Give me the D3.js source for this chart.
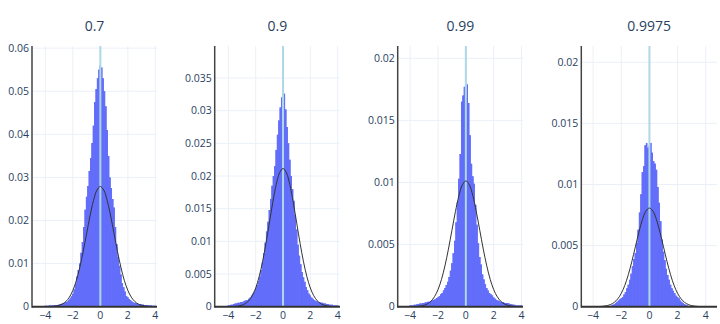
<!DOCTYPE html>
<html>
<head>
<meta charset="utf-8">
<script src="https://cdn.jsdelivr.net/npm/d3@7"></script>
<style>
  html, body { margin: 0; padding: 0; background: #fff; }
  svg { display: block; }
</style>
</head>
<body>
<svg id="chart" width="720" height="324"></svg>
<script>
// ---------------- DATA (heights in thousandths of probability) ----------------
const panelTitles = ["0.7", "0.9", "0.99", "0.9975"];
const binStart = -4.0;   // centre of first bin
const binWidth = 0.1;

const hist07 = [
  0.2,0.2,0.2,0.3,0.3,0.3,0.3,0.4,0.4,0.4,
  0.5,0.6,0.7,0.8,0.9,1.1,1.2,1.5,1.9,2.4,
  3.0,4.0,5.2,7.0,8.5,10.0,12.5,15.0,18.5,22.5,
  25.5,28.0,31.5,34.5,38.0,42.0,47.5,50.5,53.0,55.0,
  56.0,
  55.5,53.0,50.0,46.5,41.0,35.0,30.0,27.5,25.0,23.0,
  18.5,14.5,11.5,9.5,7.5,5.5,4.5,3.5,2.5,2.2,
  1.8,1.5,1.2,1.0,0.9,0.8,0.7,0.6,0.6,0.5,
  0.5,0.4,0.4,0.4,0.3,0.3,0.3,0.2,0.2,0.2
];
const hist09 = [
  0.2,0.2,0.3,0.3,0.4,0.5,0.5,0.6,0.6,0.7,
  0.7,0.8,0.9,1.0,1.0,1.2,1.4,1.7,2.0,2.3,
  2.8,3.3,3.9,4.6,5.6,6.8,8.2,9.8,11.5,13.0,
  14.8,16.5,18.5,20.0,21.5,24.0,26.3,28.5,30.5,32.0,
  32.5,
  32.6,30.2,27.5,25.0,22.5,20.0,18.0,16.2,14.0,11.8,
  9.5,7.8,6.5,5.3,4.5,3.8,3.0,2.5,2.0,1.7,
  1.4,1.2,1.0,0.9,0.8,0.7,0.7,0.6,0.6,0.5,
  0.5,0.4,0.4,0.3,0.3,0.3,0.2,0.2,0.2,0.2
];
const hist099 = [
  0.1,0.1,0.1,0.15,0.15,0.2,0.2,0.25,0.25,0.3,
  0.3,0.35,0.35,0.4,0.4,0.45,0.5,0.55,0.6,0.7,
  0.75,0.85,1.0,1.1,1.3,1.5,1.75,2.0,2.4,2.9,
  3.5,4.3,5.3,6.8,8.4,10.3,12.3,16.5,17.0,17.7,
  16.8,
  17.9,16.4,13.8,11.5,10.5,9.9,8.2,6.6,5.1,4.0,
  3.4,2.6,2.2,1.8,1.5,1.3,1.1,1.0,0.9,0.75,
  0.65,0.55,0.5,0.45,0.4,0.35,0.35,0.3,0.3,0.3,
  0.25,0.2,0.2,0.15,0.15,0.1,0.1,0.1,0.1,0.1
];
const hist09975 = [
  0,0,0,0,0,0,0,0,0,0,
  0,0,0.05,0.1,0.15,0.2,0.3,0.4,0.5,0.6,
  0.7,0.8,1.0,1.2,1.5,1.8,2.2,2.7,3.3,3.9,
  4.4,5.2,6.3,7.7,9.2,11.0,11.5,13.2,13.4,13.0,
  13.2,
  13.4,12.6,11.9,11.7,11.2,9.8,8.5,7.0,5.5,4.5,
  3.8,3.1,2.6,2.2,1.8,1.5,1.3,1.1,0.9,0.8,
  0.7,0.5,0.4,0.3,0.2,0.15,0.1,0.05,0,0,
  0,0,0,0,0,0,0,0,0,0
];
const histograms = [hist07, hist09, hist099, hist09975];

// fitted normal curve: shape values exp(-x^2/2) at |x| = 0, 0.25, ... 5, scaled by each panel's peak
const curveStep = 0.25;
const normalShape = [1, 0.9692, 0.8825, 0.7548, 0.6065, 0.4578, 0.3247, 0.2163, 0.1353,
  0.0796, 0.0439, 0.0228, 0.0111, 0.0051, 0.0022, 0.0009, 0.0003, 0.0001, 0.00004, 0.00001, 0.000004];
const curvePeaks = [27.9, 21.15, 10.13, 8.07];

// axes
const xDomains = [[-4.97, 4.12], [-5.0, 4.17], [-4.89, 4.1], [-4.84, 4.8]];
const yMax = [60.5, 39.9, 20.99, 21.33];
const xTicks = [-4, -2, 0, 2, 4];
const xTickLabels = ["\u22124", "\u22122", "0", "2", "4"];
const yTicks = [
  [0, 10, 20, 30, 40, 50, 60],
  [0, 5, 10, 15, 20, 25, 30, 35],
  [0, 5, 10, 15, 20],
  [0, 5, 10, 15, 20]
];
const yTickLabels = [
  ["0", "0.01", "0.02", "0.03", "0.04", "0.05", "0.06"],
  ["0", "0.005", "0.01", "0.015", "0.02", "0.025", "0.03", "0.035"],
  ["0", "0.005", "0.01", "0.015", "0.02"],
  ["0", "0.005", "0.01", "0.015", "0.02"]
];

// ---------------- LAYOUT ----------------
const panelLeft = [32, 214.7, 397.7, 581.3];
const panelRight = [157, 340, 523, 717];
const plotTop = 46, plotBottom = 306.7;
const fontFam = "'Open Sans', 'Noto Sans', sans-serif";
const textColor = "#2a3f5f";
const barColor = "#636efa";

const svg = d3.select("#chart");

// symmetric curve points
const curvePts = [];
for (let i = normalShape.length - 1; i >= 1; i--) curvePts.push([-i * curveStep, normalShape[i]]);
for (let i = 0; i < normalShape.length; i++) curvePts.push([i * curveStep, normalShape[i]]);

histograms.forEach((hist, p) => {
  const x = d3.scaleLinear().domain(xDomains[p]).range([panelLeft[p], panelRight[p]]);
  const y = d3.scaleLinear().domain([0, yMax[p]]).range([plotBottom, plotTop]);
  const g = svg.append("g");

  const clipId = "clip" + p;
  svg.append("clipPath").attr("id", clipId).append("rect")
    .attr("x", panelLeft[p]).attr("y", plotTop - 2)
    .attr("width", panelRight[p] - panelLeft[p]).attr("height", plotBottom - plotTop + 2);

  // grid
  g.append("g").selectAll("line").data(xTicks).join("line")
    .attr("x1", d => x(d)).attr("x2", d => x(d))
    .attr("y1", plotTop).attr("y2", plotBottom)
    .attr("stroke", "#EBF0F8").attr("stroke-width", 1);
  g.append("g").selectAll("line").data(yTicks[p].slice(1)).join("line")
    .attr("x1", panelLeft[p]).attr("x2", panelRight[p])
    .attr("y1", d => y(d)).attr("y2", d => y(d))
    .attr("stroke", "#EBF0F8").attr("stroke-width", 1);

  // bars
  const bars = hist.map((h, i) => ({ c: binStart + i * binWidth, h }));
  const barG = g.append("g").attr("clip-path", `url(#${clipId})`);
  // continuous step silhouette underneath (prevents anti-aliasing seams between adjacent bars)
  const stepPts = [];
  bars.forEach(d => { stepPts.push([d.c - binWidth / 2, d.h]); stepPts.push([d.c + binWidth / 2, d.h]); });
  barG.append("path")
    .datum(stepPts)
    .attr("d", d3.area().x(d => x(d[0])).y0(plotBottom).y1(d => y(d[1])))
    .attr("fill", barColor);
  barG.selectAll("rect").data(bars.filter(d => d.h > 0)).join("rect")
    .attr("x", d => x(d.c - binWidth / 2))
    .attr("width", d => x(d.c + binWidth / 2) - x(d.c - binWidth / 2))
    .attr("y", d => y(d.h))
    .attr("height", d => plotBottom - y(d.h))
    .attr("fill", barColor);

  // vertical line at 0
  g.append("line")
    .attr("x1", x(0)).attr("x2", x(0))
    .attr("y1", plotTop).attr("y2", plotBottom)
    .attr("stroke", "#add8e6").attr("stroke-width", 2);

  // normal curve
  const line = d3.line()
    .x(d => x(d[0]))
    .y(d => y(d[1] * curvePeaks[p]))
    .curve(d3.curveCatmullRom);
  g.append("path").attr("clip-path", `url(#${clipId})`)
    .datum(curvePts)
    .attr("d", line)
    .attr("fill", "none")
    .attr("stroke", "#333")
    .attr("stroke-width", 1);

  // axis lines
  g.append("line")
    .attr("x1", panelLeft[p]).attr("x2", panelLeft[p])
    .attr("y1", plotTop).attr("y2", plotBottom + 1)
    .attr("stroke", "#444").attr("stroke-width", 1.5);
  g.append("line")
    .attr("x1", panelLeft[p]).attr("x2", panelRight[p])
    .attr("y1", plotBottom).attr("y2", plotBottom)
    .attr("stroke", "#333").attr("stroke-width", 2);

  // tick labels
  g.append("g").selectAll("text").data(xTicks).join("text")
    .attr("x", d => x(d)).attr("y", 319)
    .attr("text-anchor", "middle")
    .attr("font-family", fontFam).attr("font-size", 10.5)
    .attr("fill", textColor)
    .text((d, i) => xTickLabels[i]);
  g.append("g").selectAll("text").data(yTicks[p]).join("text")
    .attr("x", panelLeft[p] - 3).attr("y", d => y(d))
    .attr("dy", "0.35em")
    .attr("text-anchor", "end")
    .attr("font-family", fontFam).attr("font-size", 10.5)
    .attr("fill", textColor)
    .text((d, i) => yTickLabels[p][i]);

  // title
  svg.append("text")
    .attr("x", (panelLeft[p] + panelRight[p]) / 2).attr("y", 31)
    .attr("text-anchor", "middle")
    .attr("font-family", fontFam).attr("font-size", 14)
    .attr("fill", textColor)
    .text(panelTitles[p]);
});
</script>
</body>
</html>
